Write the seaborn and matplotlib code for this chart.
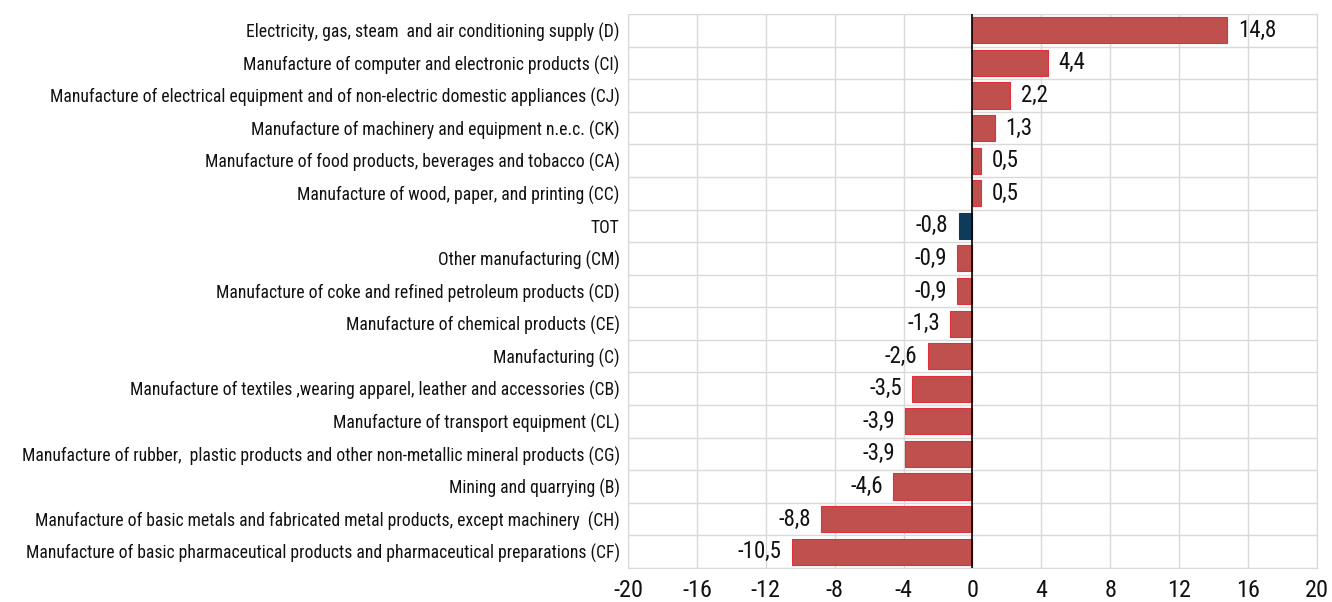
import matplotlib
matplotlib.use("Agg")
import matplotlib.pyplot as plt
import seaborn as sns
import pandas as pd
from matplotlib import font_manager

# Données
categories = [
    "Electricity, gas, steam  and air conditioning supply (D)",
    "Manufacture of computer and electronic products (CI)",
    "Manufacture of electrical equipment and of non-electric domestic appliances (CJ)",
    "Manufacture of machinery and equipment n.e.c. (CK)",
    "Manufacture of food products, beverages and tobacco (CA)",
    "Manufacture of wood, paper, and printing (CC)",
    "TOT",
    "Other manufacturing (CM)",
    "Manufacture of coke and refined petroleum products (CD)",
    "Manufacture of chemical products (CE)",
    "Manufacturing (C)",
    "Manufacture of textiles ,wearing apparel, leather and accessories (CB)",
    "Manufacture of transport equipment (CL)",
    "Manufacture of rubber,  plastic products and other non-metallic mineral products (CG)",
    "Mining and quarrying (B)",
    "Manufacture of basic metals and fabricated metal products, except machinery  (CH)",
    "Manufacture of basic pharmaceutical products and pharmaceutical preparations (CF)",
]
values = [14.8, 4.4, 2.2, 1.3, 0.5, 0.5, -0.8, -0.9, -0.9, -1.3, -2.6, -3.5, -3.9, -3.9, -4.6, -8.8, -10.5]
xticks = list(range(-20, 21, 4))

red = "#C0504D"
navy = "#0E3A5C"
colors = [navy if c == "TOT" else red for c in categories]
edges = [navy if c == "TOT" else "#E0303A" for c in categories]

df = pd.DataFrame({"cat": categories, "val": values})

sns.set_style("white")

# police étroite si disponible
names = {f.name for f in font_manager.fontManager.ttflist}
narrow = [n for n in ["Liberation Sans Narrow", "Roboto Condensed", "Open Sans Condensed",
                      "DejaVu Sans Condensed", "Arial Narrow"] if n in names]
if narrow:
    fam = narrow[0]
    lab_fs, val_fs, tick_fs = 12.7, 16.5, 17.5
else:
    fam = "Liberation Sans"
    lab_fs, val_fs, tick_fs = 11.3, 15, 15.5
plt.rcParams["font.family"] = [fam, "DejaVu Sans"]

fig, ax = plt.subplots(figsize=(13.32, 6.02), dpi=100)
fig.subplots_adjust(left=0.4715, right=0.9887, top=0.9767, bottom=0.0565)

sns.barplot(data=df, y="cat", x="val", hue="cat", palette=colors, legend=False,
            width=0.8, orient="h", saturation=1, ax=ax, zorder=3)
for patch, ec in zip(ax.patches, edges):
    patch.set_edgecolor(ec)
    patch.set_linewidth(0.8)

ax.set_xlim(-20, 20)
ax.set_ylim(len(categories) - 0.5, -0.5)
ax.set_xticks(xticks)
ax.set_xticklabels([str(t) for t in xticks], fontsize=tick_fs, color="#111111")
ax.tick_params(axis="x", length=0, pad=8)
ax.tick_params(axis="y", length=0, pad=6, labelsize=lab_fs, labelcolor="#111111")
ax.set_xlabel("")
ax.set_ylabel("")

# grille
ax.set_yticks(range(len(categories)))
for b in [i - 0.5 for i in range(len(categories) + 1)]:
    ax.axhline(b, color="#d9d9d9", lw=1, zorder=1)
for t in xticks:
    ax.axvline(t, color="#d9d9d9", lw=1, zorder=1)
ax.axvline(0, color="black", lw=1.2, zorder=4)
for s in ax.spines.values():
    s.set_color("#d9d9d9")

# étiquettes de valeurs
for i, v in enumerate(values):
    txt = f"{v:.1f}".replace(".", ",")
    if v >= 0:
        ax.text(v + 0.6, i, txt, va="center", ha="left", fontsize=val_fs, color="#111111", zorder=5)
    else:
        ax.text(v - 0.6, i, txt, va="center", ha="right", fontsize=val_fs, color="#111111", zorder=5)

plt.savefig("out.png", dpi=100)
